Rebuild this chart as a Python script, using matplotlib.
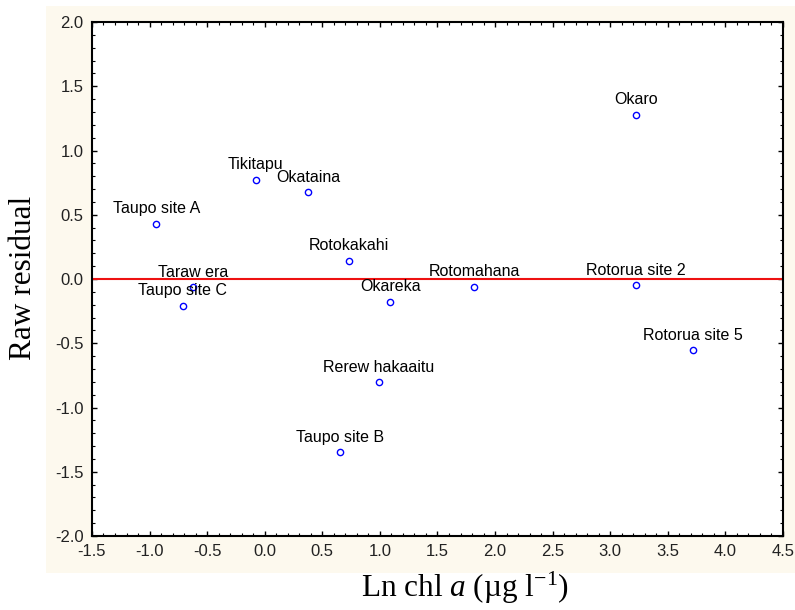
import matplotlib.pyplot as plt
from matplotlib.patches import Rectangle
from matplotlib.ticker import MultipleLocator

plt.rcParams["mathtext.fontset"] = "custom"
plt.rcParams["mathtext.rm"] = "Liberation Serif"
plt.rcParams["mathtext.it"] = "Liberation Serif:italic"

# lake / site labels and their (ln chl a, raw residual) values
sites = ["Taupo site A", "Tikitapu", "Okataina", "Rotokakahi", "Taraw era",
         "Taupo site C", "Okareka", "Rotomahana", "Rotorua site 2", "Okaro",
         "Rotorua site 5", "Rerew hakaaitu", "Taupo site B"]
ln_chl = [-0.94, -0.08, 0.38, 0.73, -0.62, -0.71, 1.09, 1.82, 3.22, 3.22,
          3.72, 0.99, 0.65]
resid = [0.43, 0.77, 0.675, 0.14, -0.065, -0.21, -0.18, -0.06, -0.05, 1.28,
         -0.555, -0.805, -1.35]

x_ticks = [-1.5, -1.0, -0.5, 0.0, 0.5, 1.0, 1.5, 2.0, 2.5, 3.0, 3.5, 4.0, 4.5]
y_ticks = [-2.0, -1.5, -1.0, -0.5, 0.0, 0.5, 1.0, 1.5, 2.0]

fig = plt.figure(figsize=(7.95, 6.1), dpi=100)
fig.patch.set_facecolor("white")
# cream panel behind the plot
bg = fig.add_axes([0.058, 0.061, 0.942, 0.929], zorder=0)
bg.set_facecolor("#fdf9ee")
bg.axis("off")
bg.add_patch(Rectangle((0, 0), 1, 1, transform=bg.transAxes,
                       facecolor="#fdf9ee", edgecolor="none"))

ax = fig.add_axes([0.1157, 0.1213, 0.8692, 0.8426], zorder=1)
ax.set_facecolor("white")

ax.axhline(0, color="#ee1111", lw=1.5, zorder=2)
ax.plot(ln_chl, resid, "o", ms=4.5, mfc="none", mec="#0000ff", mew=1.0, zorder=3)
for name, x, y in zip(sites, ln_chl, resid):
    ax.annotate(name, (x, y), xytext=(0, 11), textcoords="offset points",
                ha="center", va="center", fontsize=11.5,
                family="Liberation Sans", color="black", zorder=4)

ax.set_xlim(-1.5, 4.5)
ax.set_ylim(-2.0, 2.0)
ax.set_xticks(x_ticks)
ax.set_yticks(y_ticks)
ax.set_xticklabels([f"{v:.1f}" for v in x_ticks])
ax.set_yticklabels([f"{v:.1f}" for v in y_ticks])
ax.xaxis.set_minor_locator(MultipleLocator(0.1))
ax.yaxis.set_minor_locator(MultipleLocator(0.1))
ax.tick_params(which="both", direction="in", top=True, right=True, color="black")
ax.tick_params(which="major", length=3.5, width=1.0, labelsize=12, pad=6)
ax.tick_params(which="minor", length=2, width=0.8)
for lbl in ax.get_xticklabels() + ax.get_yticklabels():
    lbl.set_family("Liberation Sans")
    lbl.set_color("#222222")
for s in ax.spines.values():
    s.set_linewidth(1.5)
    s.set_color("black")

fig.text(0.029, 0.545, "Raw residual", rotation=90, ha="center", va="center",
         fontsize=22.5, family="Liberation Serif")
fig.text(0.585, 0.036, r"Ln chl $\it{a}$ (µg l$^{\mathregular{-1}}$)", ha="center",
         va="center", fontsize=22.5, family="Liberation Serif")

fig.savefig("out.png", dpi=100)
